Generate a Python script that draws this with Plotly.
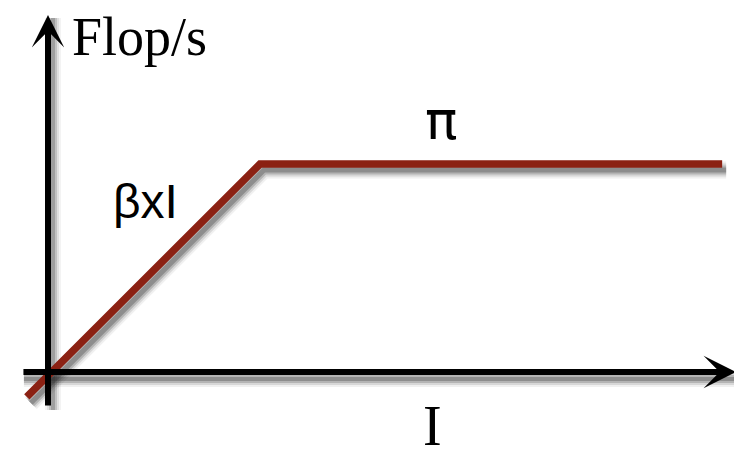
import plotly.graph_objects as go

# ---- data (roofline model, normalised units) ----
intensity = [-0.10, 1.0, 3.18]      # operational intensity I
performance = [-0.12, 1.0, 1.0]     # attainable Flop/s (beta x I, then pi)
x_axis_span = [-0.123, 3.245]
y_axis_span = [-0.168, 1.716]

labels = {
    "ylabel": "Flop/s",
    "xlabel": "I",
    "peak": "π",
    "slope": "βxI",
}

# page has an 8px body margin, so the figure is sized to fit the window
W, H = 734, 448
x_range = [-0.1887, 3.2736]
y_range = [-0.4038, 1.75]
PXX = (x_range[1] - x_range[0]) / W   # data units per px
PXY = (y_range[1] - y_range[0]) / H

fig = go.Figure()

# soft shadows (drawn first, under everything)
def shadow(xs, ys, dx, dy, base_w, k=1.0):
    for w, op in [(base_w + 10, 0.07), (base_w + 6, 0.12), (base_w + 2, 0.20), (base_w - 2, 0.28)]:
        fig.add_trace(go.Scatter(
            x=[v + dx * PXX for v in xs], y=[v - dy * PXY for v in ys],
            mode="lines", line=dict(color=f"rgba(40,40,40,{op * k:.3f})", width=w),
            hoverinfo="skip", showlegend=False))

shadow(intensity, performance, 4, 6, 7)
shadow(x_axis_span, [0, 0], 2, 7, 6)
shadow([0, 0], y_axis_span, 5, 3, 6, 0.8)

# roofline
fig.add_trace(go.Scatter(
    x=intensity, y=performance, mode="lines",
    line=dict(color="#8b2113", width=7.5),
    hoverinfo="skip", showlegend=False))

annotations = []
# axes arrows
for tip, tail in [((x_axis_span[1], 0), (x_axis_span[0], 0)),
                  ((0, y_axis_span[1]), (0, y_axis_span[0]))]:
    annotations.append(dict(x=tip[0], y=tip[1], ax=tail[0], ay=tail[1],
                            xref="x", yref="y", axref="x", ayref="y",
                            text="", showarrow=True, arrowhead=3, arrowwidth=6,
                            arrowsize=0.9, arrowcolor="black"))

def lab(text, px, py, size, family):
    annotations.append(dict(text=text, x=px / W, y=1 - py / H, xref="paper", yref="paper",
                            xanchor="center", yanchor="middle", showarrow=False,
                            font=dict(size=size, family=family, color="black")))

lab(labels["ylabel"], 131, 29, 54, "Liberation Serif")
lab(labels["peak"], 433, 112, 54, "DejaVu Sans")
lab(labels["slope"], 137, 193, 48, "Liberation Sans")
lab(labels["xlabel"], 424, 418, 56, "Liberation Serif")

fig.update_layout(
    width=W, height=H,
    margin=dict(l=0, r=0, t=0, b=0),
    paper_bgcolor="white", plot_bgcolor="white",
    xaxis=dict(range=x_range, visible=False, fixedrange=True),
    yaxis=dict(range=y_range, visible=False, fixedrange=True),
    annotations=annotations,
    showlegend=False,
)

fig.write_html("out.html")
